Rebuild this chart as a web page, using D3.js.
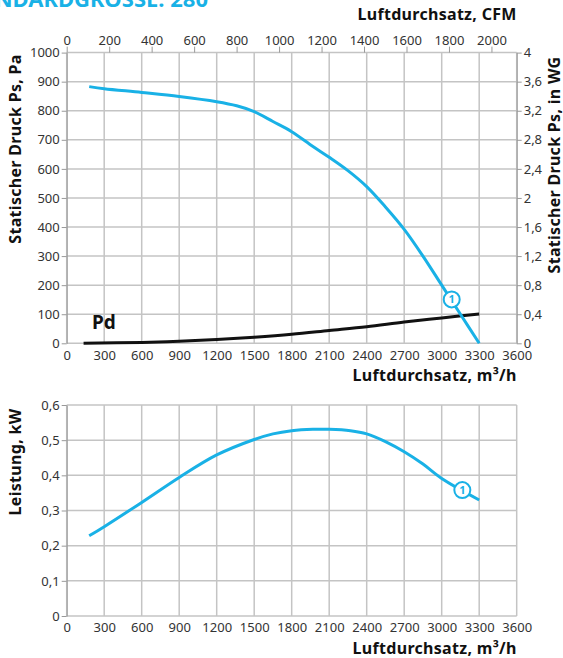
<!DOCTYPE html>
<html>
<head>
<meta charset="utf-8">
<script src="https://cdn.jsdelivr.net/npm/d3@7"></script>
<style>
  body { margin: 0; background: #fff; }
  svg text { font-family: "Noto Sans", sans-serif; }
  .tick text { font-size: 13px; fill: #333; }
  .axis path, .axis line { stroke: #999; }
  .title { font-weight: bold; font-size: 16px; fill: #111; letter-spacing: 0.3px; }
</style>
</head>
<body>
<div id="chart"></div>
<script>
// data
const psFlow  = [180, 300, 600, 900, 1200, 1360, 1500, 1650, 1800, 1970, 2100, 2250, 2400, 2550, 2700, 2850, 3000, 3150, 3300];
const psValue = [883, 876, 863, 849, 831, 817, 797, 763, 728, 677, 640, 594, 539, 469, 392, 300, 200, 100, 0];

const pdFlow  = [135, 600, 900, 1200, 1500, 1800, 2100, 2400, 2700, 3000, 3300];
const pdValue = [0, 3, 7, 13, 21, 31, 44, 57, 73, 87, 101];

const pwFlow  = [180, 300, 600, 900, 1200, 1500, 1650, 1800, 1970, 2100, 2270, 2400, 2550, 2700, 2850, 3000, 3300];
const pwValue = [0.228, 0.254, 0.323, 0.394, 0.458, 0.502, 0.518, 0.527, 0.531, 0.531, 0.527, 0.518, 0.496, 0.467, 0.432, 0.391, 0.33];

const flowTicks = d3.range(0, 3601, 300);
const cfmTicks = [0, 200, 400, 600, 800, 1000, 1200, 1400, 1600, 1800, 2000];
const paTicks = d3.range(0, 1001, 100);
const wgTicks = [0, 0.4, 0.8, 1.2, 1.6, 2, 2.4, 2.8, 3.2, 3.6, 4];
const kwTicks = [0, 0.1, 0.2, 0.3, 0.4, 0.5, 0.6];

const cyan = "#19b1e6";
const fmt = d => String(d).replace(".", ",");
const plain = d => String(d);

const width = 563, height = 658;
const svg = d3.select("#chart").append("svg")
  .attr("width", width).attr("height", height);

const left = 66.7, right = 516.7;

// title cut at the top
svg.append("text")
  .attr("x", 208).attr("y", 7)
  .attr("text-anchor", "end")
  .style("font-size", "22px").style("font-weight", "bold")
  .attr("fill", cyan)
  .text("STANDARDGROSSE: 280");

//---- top chart
const x = d3.scaleLinear().domain([0, 3600]).range([left, right]);
const xCfm = d3.scaleLinear().domain([0, 3600 / 1.699]).range([left, right]);
const y = d3.scaleLinear().domain([0, 1000]).range([343.3, 52.6]);
const yWg = d3.scaleLinear().domain([0, 4]).range([343.3, 52.6]);

function grid(g, xs, ys, yTicks) {
  g.append("g").selectAll("line").data(flowTicks).enter().append("line")
    .attr("x1", d => xs(d)).attr("x2", d => xs(d))
    .attr("y1", ys.range()[0]).attr("y2", ys.range()[1])
    .attr("stroke", "#c4c4c4").attr("stroke-width", 1.5);
  g.append("g").selectAll("line").data(yTicks).enter().append("line")
    .attr("x1", left).attr("x2", right)
    .attr("y1", d => ys(d)).attr("y2", d => ys(d))
    .attr("stroke", "#c4c4c4").attr("stroke-width", 1.5);
}

grid(svg, x, y, paTicks);

svg.append("g").attr("class", "axis")
  .attr("transform", `translate(0,${y(0)})`)
  .call(d3.axisBottom(x).tickValues(flowTicks).tickFormat(plain).tickSize(0).tickPadding(7))
  .call(g => g.select(".domain").remove());

svg.append("g").attr("class", "axis")
  .attr("transform", `translate(${left},0)`)
  .call(d3.axisLeft(y).tickValues(paTicks).tickFormat(plain).tickSize(5).tickPadding(2).tickSizeOuter(0));

svg.append("g").attr("class", "axis")
  .attr("transform", `translate(${right},0)`)
  .call(d3.axisRight(yWg).tickValues(wgTicks).tickFormat(fmt).tickSize(5).tickPadding(2).tickSizeOuter(0));

svg.append("g").attr("class", "axis")
  .attr("transform", `translate(0,${y(1000)})`)
  .call(d3.axisTop(xCfm).tickValues(cfmTicks).tickFormat(plain).tickSize(6).tickPadding(2).tickSizeOuter(0))
  .call(g => g.select(".domain").remove());

const line1 = d3.line().x(d => x(d[0])).y(d => y(d[1])).curve(d3.curveCatmullRom.alpha(0.5));

svg.append("path")
  .datum(d3.zip(pdFlow, pdValue))
  .attr("fill", "none").attr("stroke", "#111").attr("stroke-width", 3)
  .attr("d", line1);

svg.append("path")
  .datum(d3.zip(psFlow, psValue))
  .attr("fill", "none").attr("stroke", cyan).attr("stroke-width", 3)
  .attr("d", line1);

svg.append("text")
  .attr("x", 92).attr("y", 329)
  .style("font-size", "19px").style("font-weight", "bold").attr("fill", "#111")
  .text("Pd");

function badge(cx, cy) {
  svg.append("circle").attr("cx", cx).attr("cy", cy).attr("r", 8)
    .attr("fill", "#fff").attr("stroke", cyan).attr("stroke-width", 2);
  svg.append("text").attr("x", cx).attr("y", cy + 4)
    .attr("text-anchor", "middle")
    .style("font-size", "11px").style("font-weight", "bold").attr("fill", cyan)
    .text("1");
}
badge(x(3080), y(151));

svg.append("text").attr("class", "title")
  .attr("x", right).attr("y", 381).attr("text-anchor", "end")
  .text("Luftdurchsatz, m³/h");
svg.append("text").attr("class", "title")
  .attr("x", right).attr("y", 20).attr("text-anchor", "end")
  .text("Luftdurchsatz, CFM");
svg.append("text").attr("class", "title")
  .attr("transform", "translate(21,149) rotate(-90)").attr("text-anchor", "middle")
  .text("Statischer Druck Ps, Pa");
svg.append("text").attr("class", "title")
  .attr("transform", "translate(560,165) rotate(-90)").attr("text-anchor", "middle")
  .text("Statischer Druck Ps, in WG");

//---- bottom chart
const y2 = d3.scaleLinear().domain([0, 0.6]).range([616, 405]);

grid(svg, x, y2, kwTicks);

svg.append("g").attr("class", "axis")
  .attr("transform", `translate(0,${y2(0)})`)
  .call(d3.axisBottom(x).tickValues(flowTicks).tickFormat(plain).tickSize(0).tickPadding(7))
  .call(g => g.select(".domain").remove());

svg.append("g").attr("class", "axis")
  .attr("transform", `translate(${left},0)`)
  .call(d3.axisLeft(y2).tickValues(kwTicks).tickFormat(fmt).tickSize(5).tickPadding(2).tickSizeOuter(0));

const line2 = d3.line().x(d => x(d[0])).y(d => y2(d[1])).curve(d3.curveCatmullRom.alpha(0.5));

svg.append("path")
  .datum(d3.zip(pwFlow, pwValue))
  .attr("fill", "none").attr("stroke", cyan).attr("stroke-width", 3)
  .attr("d", line2);

badge(x(3165), y2(0.358));

svg.append("text").attr("class", "title")
  .attr("x", right).attr("y", 654).attr("text-anchor", "end")
  .text("Luftdurchsatz, m³/h");
svg.append("text").attr("class", "title")
  .attr("transform", "translate(21,462) rotate(-90)").attr("text-anchor", "middle")
  .text("Leistung, kW");
</script>
</body>
</html>
